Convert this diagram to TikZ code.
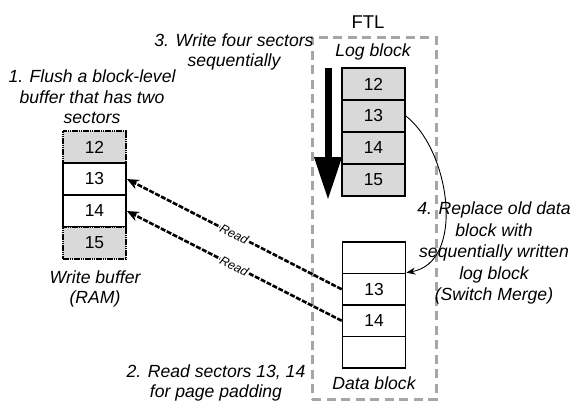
\documentclass[tikz,border=0pt]{standalone}
\usepackage{fontspec}
\setmainfont{Liberation Sans}
\usetikzlibrary{arrows.meta}
\definecolor{cellgray}{HTML}{D9D9D9}
\definecolor{ftlgray}{HTML}{A6A6A6}
\tikzset{
  cell/.style={draw=black, line width=1.7pt, minimum width=63pt, minimum height=32pt,
    inner sep=0pt, font=\fontsize{17.4}{20}\selectfont},
  usedcell/.style={cell, fill=cellgray},
  padcell/.style={cell, fill=cellgray, dash pattern=on 1.6pt off 0.6pt},
  note/.style={align=center, inner sep=0pt, font=\fontsize{17.6}{20.5}\selectfont\itshape},
  readarrow/.style={line width=2.6pt, dash pattern=on 5pt off 1.6pt,
    -{Stealth[length=12pt,width=10pt]}},
  readlabel/.style={sloped, fill=white, inner sep=0.8pt, font=\fontsize{12.5}{13}\selectfont\itshape},
}
\begin{document}
\begin{tikzpicture}[x=1pt, y=-1pt]
\useasboundingbox (0,0) rectangle (571,402);

% FTL region
\node[draw=ftlgray, line width=3pt, dash pattern=on 9pt off 5.5pt,
      minimum width=124pt, minimum height=362pt, inner sep=0pt] (ftl) at (374,218) {};
\node[font=\fontsize{18.5}{20}\selectfont, inner sep=0pt] (ftllabel) at (368,22) {FTL};

% write buffer in RAM
\node[padcell] (w12) at (94.5,147) {12};
\node[cell]    (w13) at (94.5,179) {13};
\node[cell]    (w14) at (94.5,211) {14};
\node[padcell] (w15) at (94.5,243) {15};
\node[note] (wlabel) at (95,289) {Write buffer\\(RAM)};

% log block
\node[usedcell] (l12) at (373.5,84)  {12};
\node[usedcell] (l13) at (373.5,116) {13};
\node[usedcell] (l14) at (373.5,148) {14};
\node[usedcell] (l15) at (373.5,180) {15};
\node[note] (llabel) at (373,52) {Log block};

% data block
\node[cell, minimum height=31.5pt] (d0)  at (374,257.75) {};
\node[cell, minimum height=31.5pt] (d13) at (374,289.25) {13};
\node[cell, minimum height=31.5pt] (d14) at (374,320.75) {14};
\node[cell, minimum height=31.5pt] (d1)  at (374,352.25) {};
\node[note] (dlabel) at (374,383) {Data block};

% sequential write direction
\coordinate (seqtop) at (328,68);
\coordinate (seqbot) at (328,200);
\draw[line width=7pt, -{Triangle[length=43pt,width=26pt]}] (seqtop) -- (seqbot);

% page padding reads
\draw[readarrow] (d13.west) -- node[readlabel] {Read} (w13.east);
\draw[readarrow] (d14.west) -- node[readlabel] {Read} (w14.east);

% switch merge
\draw[line width=0.9pt, -{Stealth[length=9pt,width=7pt]}]
  (l13.east) .. controls (450,150) and (466,262) .. (d13.north east);

% step notes
\node[note] (s1) at (92,97) {1. Flush a block-level\\buffer that has two\\sectors};
\node[note] (s3) at (234,52) {3. Write four sectors\\sequentially};
\node[note, font=\fontsize{17.6}{21.5}\selectfont\itshape] (s4) at (494,253)
  {4. Replace old data\\block with\\sequentially written\\log block\\(Switch Merge)};
\node[note] (s2) at (216,383) {2. Read sectors 13, 14\\for page padding};
\end{tikzpicture}
\end{document}
